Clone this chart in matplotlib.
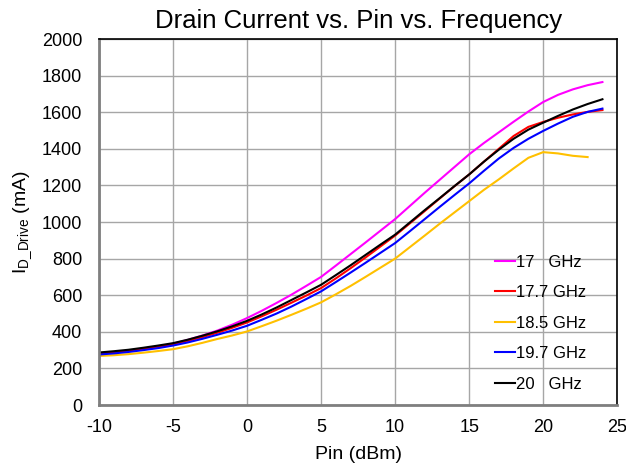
import matplotlib

matplotlib.use("Agg")
import matplotlib.pyplot as plt  # noqa: E402

plt.rcParams["font.family"] = ["Liberation Sans", "DejaVu Sans"]
plt.rcParams["mathtext.fontset"] = "custom"
plt.rcParams["mathtext.rm"] = "Liberation Sans"
plt.rcParams["mathtext.it"] = "Liberation Sans"
plt.rcParams["axes.unicode_minus"] = False

# Pin (dBm)
pin = list(range(-10, 25))
pin_18g5 = list(range(-10, 24))

# drain current (mA) per frequency
id_17g = [280, 287, 296, 306, 319, 335, 356, 380, 407, 439, 475, 515, 558, 603, 651, 700,
          762, 825, 888, 952, 1016, 1088, 1160, 1230, 1300, 1370, 1432, 1490, 1548, 1604,
          1656, 1695, 1725, 1748, 1765]
id_17g7 = [282, 289, 297, 307, 319, 332, 350, 371, 395, 422, 451, 485, 521, 559, 598, 639,
           692, 748, 806, 866, 926, 993, 1060, 1128, 1195, 1260, 1330, 1400, 1470, 1520,
           1547, 1570, 1588, 1602, 1612]
id_18g5 = [268, 272, 278, 286, 295, 305, 321, 340, 361, 380, 402, 431, 461, 493, 526, 561,
           605, 651, 700, 750, 800, 863, 926, 990, 1052, 1114, 1176, 1233, 1293, 1351,
           1382, 1375, 1362, 1355]
id_19g7 = [276, 282, 290, 300, 311, 325, 342, 362, 384, 407, 433, 466, 500, 538, 579, 621,
           672, 724, 777, 831, 885, 950, 1016, 1082, 1147, 1211, 1280, 1347, 1405, 1455,
           1498, 1538, 1575, 1602, 1620]
id_20g = [287, 294, 302, 313, 325, 338, 357, 379, 403, 430, 460, 495, 533, 574, 615, 657,
          710, 764, 820, 876, 931, 998, 1065, 1130, 1196, 1260, 1330, 1395, 1455, 1505,
          1543, 1580, 1615, 1645, 1671]

series = [
    ("17   GHz", pin, id_17g, "#ff00ff"),
    ("17.7 GHz", pin, id_17g7, "#ff0000"),
    ("18.5 GHz", pin_18g5, id_18g5, "#ffc000"),
    ("19.7 GHz", pin, id_19g7, "#0000ff"),
    ("20   GHz", pin, id_20g, "#000000"),
]

fig = plt.figure(figsize=(6.26, 4.65), dpi=100)
ax = fig.add_axes([0.158, 0.129, 0.828, 0.787])

for label, x, y, color in series:
    ax.plot(x, y, color=color, linewidth=1.5, label=label)

ax.set_xlim(-10, 25)
ax.set_ylim(0, 2000)
ax.set_xticks(range(-10, 26, 5))
ax.set_yticks(range(0, 2001, 200))
ax.grid(True, color="#a6a6a6", linewidth=1.0)
ax.set_axisbelow(True)
ax.tick_params(length=0, labelsize=13)
ax.tick_params(axis="y", pad=12)
ax.tick_params(axis="x", pad=10)

for side in ("left", "bottom"):
    ax.spines[side].set_color("#7f7f7f")
    ax.spines[side].set_linewidth(2)
for side in ("top", "right"):
    ax.spines[side].set_color("black")
    ax.spines[side].set_linewidth(1.2)

ax.set_title("Drain Current vs. Pin vs. Frequency", fontsize=18.5, pad=8)
ax.set_xlabel("Pin (dBm)", fontsize=14, labelpad=7)
ax.set_ylabel(r"I$_{\mathrm{D\_Drive}}$ (mA)", fontsize=14, labelpad=6)

ax.legend(loc="lower left", bbox_to_anchor=(495 / 626, 0.158), bbox_transform=fig.transFigure,
          frameon=False, fontsize=12, borderpad=0, borderaxespad=0,
          handlelength=1.2, handletextpad=0.08, labelspacing=0.93)

fig.savefig("out.png", dpi=100)
